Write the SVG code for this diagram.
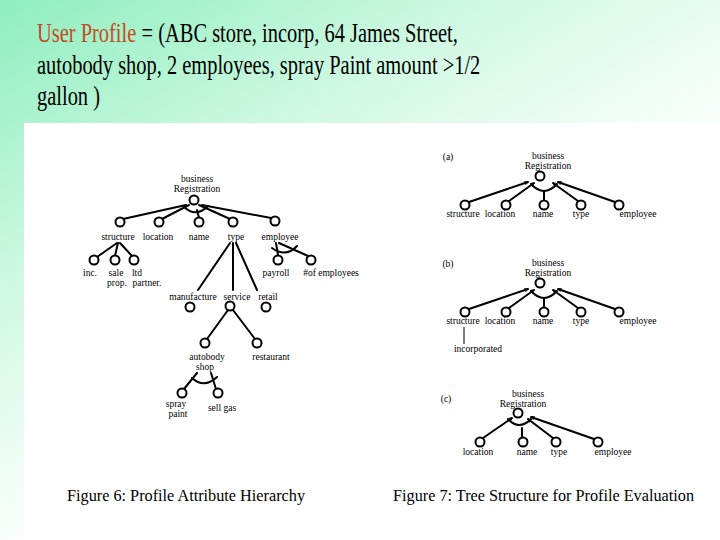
<svg xmlns="http://www.w3.org/2000/svg" width="720" height="540" viewBox="0 0 720 540">
<defs>
<linearGradient id="bg" gradientUnits="userSpaceOnUse" x1="0" y1="0" x2="300" y2="500">
<stop offset="0" stop-color="#8eeebf"/>
<stop offset="0.45" stop-color="#d2f9e4"/>
<stop offset="0.85" stop-color="#ffffff"/>
</linearGradient>
<marker id="ah" viewBox="0 0 8 8" refX="7" refY="4" markerWidth="4" markerHeight="4" orient="auto" markerUnits="userSpaceOnUse">
<path d="M0,0 L8,4 L0,8" fill="none" stroke="#000" stroke-width="1.5"/>
</marker>
</defs>
<style>
text{font-family:"Liberation Serif","DejaVu Serif",serif}
.t{font-size:28px;fill:#000}
.hl{fill:#c44a22}
.lb{font-size:9.5px;fill:#000;text-anchor:middle}
.cap{font-size:16px;fill:#000}
.n{fill:#fff;stroke:#000;stroke-width:2}
.e{stroke:#000;stroke-width:2;fill:none;stroke-linecap:round}
.e1{stroke:#000;stroke-width:1;fill:none}
</style>
<rect x="0" y="0" width="720" height="540" fill="url(#bg)"/>
<rect x="24" y="123" width="696" height="417" fill="#fff"/>

<g id="title" transform="scale(0.73,1)">
<text class="t hl" x="50.7" y="42">User Profile</text>
<text class="t" x="194" y="42">= (ABC store, incorp, 64 James Street,</text>
<text class="t" x="50.7" y="74">autobody shop, 2 employees, spray Paint amount &gt;1/2</text>
<text class="t" x="50.7" y="105">gallon )</text>
</g>

<!-- Figure 6 connectors -->
<g id="fig6-connectors">
<line class="e" x1="186" y1="205" x2="123" y2="219"/>
<line class="e" x1="189" y1="205" x2="162" y2="219"/>
<line class="e" x1="197" y1="210" x2="199" y2="218"/>
<line class="e" x1="199" y1="205" x2="230" y2="219"/>
<line class="e" x1="202" y1="205" x2="271" y2="218"/>
<path class="e" d="M184,207 Q196,218 208,206"/>
<line class="e" x1="117" y1="243" x2="97" y2="257"/>
<line class="e" x1="118" y1="243" x2="115" y2="256"/>
<line class="e" x1="120" y1="243" x2="132" y2="256"/>
<line class="e" x1="276" y1="243" x2="278" y2="255"/>
<line class="e" x1="279" y1="243" x2="308" y2="256"/>
<path class="e" d="M272,248 Q286,258 297,246"/>
<line class="e" x1="230" y1="243" x2="198" y2="290"/>
<line class="e" x1="233" y1="243" x2="233" y2="290"/>
<line class="e" x1="236" y1="243" x2="257" y2="290"/>
<line class="e" x1="228" y1="310" x2="207" y2="339"/>
<line class="e" x1="233" y1="310" x2="255" y2="339"/>
<line class="e" x1="197" y1="373" x2="184" y2="389"/>
<line class="e" x1="211" y1="373" x2="216" y2="389"/>
<path class="e" d="M192,378 Q204,389 217,377"/>
</g>

<g id="f6-root"><circle class="n" cx="194" cy="200" r="4.5"/><text class="lb" x="197" y="182">business</text><text class="lb" x="197" y="192">Registration</text></g>
<g id="f6-structure"><circle class="n" cx="120" cy="222" r="4.5"/><text class="lb" x="118" y="240">structure</text></g>
<g id="f6-location"><circle class="n" cx="159" cy="222" r="4.5"/><text class="lb" x="158" y="240">location</text></g>
<g id="f6-name"><circle class="n" cx="199" cy="222" r="4.5"/><text class="lb" x="199" y="240">name</text></g>
<g id="f6-type"><circle class="n" cx="233" cy="222" r="4.5"/><text class="lb" x="236" y="240">type</text></g>
<g id="f6-employee"><circle class="n" cx="275" cy="221" r="4.5"/><text class="lb" x="280" y="240">employee</text></g>
<g id="f6-inc"><circle class="n" cx="94" cy="260" r="4.5"/><text class="lb" x="90" y="276">inc.</text></g>
<g id="f6-sale"><circle class="n" cx="115" cy="260" r="4.5"/><text class="lb" x="116" y="276">sale</text><text class="lb" x="117" y="286">prop.</text></g>
<g id="f6-ltd"><circle class="n" cx="134" cy="260" r="4.5"/><text class="lb" x="137" y="276">ltd</text><text class="lb" x="147" y="286">partner.</text></g>
<g id="f6-payroll"><circle class="n" cx="278" cy="260" r="4.5"/><text class="lb" x="276" y="276">payroll</text></g>
<g id="f6-numemp"><circle class="n" cx="311" cy="260" r="4.5"/><text class="lb" x="331" y="276">#of employees</text></g>
<g id="f6-manufacture"><text class="lb" x="193" y="300">manufacture</text><circle class="n" cx="190" cy="307" r="4.5"/></g>
<g id="f6-service"><text class="lb" x="237" y="300">service</text><circle class="n" cx="230" cy="306" r="4.5"/></g>
<g id="f6-retail"><text class="lb" x="268" y="300">retail</text><circle class="n" cx="266" cy="307" r="4.5"/></g>
<g id="f6-autobody"><circle class="n" cx="205" cy="343" r="4.5"/><text class="lb" x="207" y="360">autobody</text><text class="lb" x="205" y="370">shop</text></g>
<g id="f6-restaurant"><circle class="n" cx="257" cy="343" r="4.5"/><text class="lb" x="271" y="360">restaurant</text></g>
<g id="f6-spray"><circle class="n" cx="182" cy="393" r="4.5"/><text class="lb" x="176" y="407">spray</text><text class="lb" x="178" y="417">paint</text></g>
<g id="f6-sellgas"><circle class="n" cx="218" cy="393" r="4.5"/><text class="lb" x="222" y="411">sell gas</text></g>

<!-- Figure 7 connectors -->
<g id="fig7-connectors">
<line class="e" x1="469" y1="202" x2="528" y2="182" marker-end="url(#ah)"/>
<line class="e" x1="509" y1="201" x2="534" y2="183" marker-end="url(#ah)"/>
<line class="e" x1="544" y1="191" x2="544" y2="201"/>
<line class="e" x1="578" y1="201" x2="553" y2="183" marker-end="url(#ah)"/>
<line class="e" x1="615" y1="202" x2="558" y2="182" marker-end="url(#ah)"/>
<path class="e" d="M531,184 Q544,198 557,184"/>

<line class="e" x1="469" y1="309" x2="528" y2="289" marker-end="url(#ah)"/>
<line class="e" x1="509" y1="308" x2="534" y2="290" marker-end="url(#ah)"/>
<line class="e" x1="544" y1="298" x2="544" y2="308"/>
<line class="e" x1="578" y1="308" x2="553" y2="290" marker-end="url(#ah)"/>
<line class="e" x1="615" y1="309" x2="558" y2="289" marker-end="url(#ah)"/>
<path class="e" d="M531,291 Q544,305 557,291"/>
<line class="e1" x1="464" y1="327" x2="464" y2="344"/>

<line class="e" x1="483" y1="438" x2="512" y2="418" marker-end="url(#ah)"/>
<line class="e" x1="522" y1="428" x2="522" y2="437"/>
<line class="e" x1="553" y1="438" x2="528" y2="419" marker-end="url(#ah)"/>
<line class="e" x1="594" y1="439" x2="531" y2="417" marker-end="url(#ah)"/>
<path class="e" d="M508,419 Q519,431 531,419"/>
</g>

<g id="f7a-label"><text class="lb" x="448" y="160">(a)</text></g>
<g id="f7a-root"><circle class="n" cx="540" cy="176" r="4.5"/><text class="lb" x="548" y="159">business</text><text class="lb" x="548" y="169">Registration</text></g>
<g id="f7a-structure"><circle class="n" cx="465" cy="205" r="4.5"/><text class="lb" x="463" y="217">structure</text></g>
<g id="f7a-location"><circle class="n" cx="506" cy="205" r="4.5"/><text class="lb" x="500" y="217">location</text></g>
<g id="f7a-name"><circle class="n" cx="544" cy="205" r="4.5"/><text class="lb" x="543" y="217">name</text></g>
<g id="f7a-type"><circle class="n" cx="581" cy="205" r="4.5"/><text class="lb" x="581" y="217">type</text></g>
<g id="f7a-employee"><circle class="n" cx="619" cy="205" r="4.5"/><text class="lb" x="638" y="217">employee</text></g>

<g id="f7b-label"><text class="lb" x="448" y="267">(b)</text></g>
<g id="f7b-root"><circle class="n" cx="540" cy="283" r="4.5"/><text class="lb" x="548" y="266">business</text><text class="lb" x="548" y="276">Registration</text></g>
<g id="f7b-structure"><circle class="n" cx="465" cy="312" r="4.5"/><text class="lb" x="463" y="324">structure</text></g>
<g id="f7b-location"><circle class="n" cx="506" cy="312" r="4.5"/><text class="lb" x="500" y="324">location</text></g>
<g id="f7b-name"><circle class="n" cx="544" cy="312" r="4.5"/><text class="lb" x="543" y="324">name</text></g>
<g id="f7b-type"><circle class="n" cx="581" cy="312" r="4.5"/><text class="lb" x="581" y="324">type</text></g>
<g id="f7b-employee"><circle class="n" cx="619" cy="312" r="4.5"/><text class="lb" x="638" y="324">employee</text></g>
<g id="f7b-incorporated"><text class="lb" x="478" y="352">incorporated</text></g>

<g id="f7c-label"><text class="lb" x="446" y="402">(c)</text></g>
<g id="f7c-root"><circle class="n" cx="518" cy="413" r="4.5"/><text class="lb" x="528" y="397">business</text><text class="lb" x="523" y="407">Registration</text></g>
<g id="f7c-location"><circle class="n" cx="480" cy="442" r="4.5"/><text class="lb" x="478" y="455">location</text></g>
<g id="f7c-name"><circle class="n" cx="523" cy="442" r="4.5"/><text class="lb" x="527" y="455">name</text></g>
<g id="f7c-type"><circle class="n" cx="556" cy="442" r="4.5"/><text class="lb" x="559" y="455">type</text></g>
<g id="f7c-employee"><circle class="n" cx="598" cy="442" r="4.5"/><text class="lb" x="613" y="455">employee</text></g>

<g id="captions">
<text class="cap" x="67" y="501" textLength="238" lengthAdjust="spacingAndGlyphs">Figure 6:  Profile Attribute Hierarchy</text>
<text class="cap" x="393" y="501" textLength="301" lengthAdjust="spacingAndGlyphs">Figure 7:  Tree Structure for Profile Evaluation</text>
</g>
</svg>
